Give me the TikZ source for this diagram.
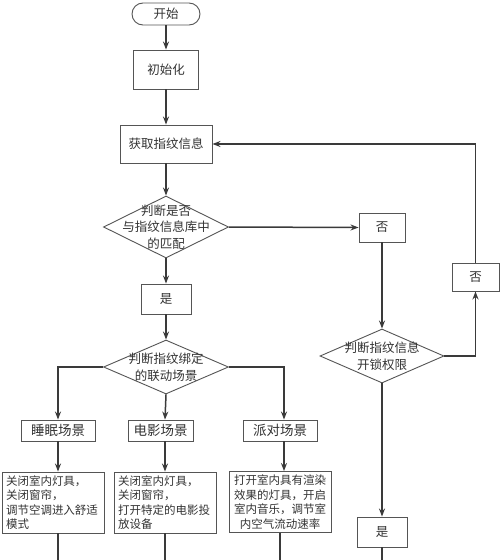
\documentclass[tikz,border=0pt]{standalone}
\usepackage{fontspec}
\setmainfont{Noto Sans CJK SC}
\usetikzlibrary{shapes.geometric,arrows.meta}
\definecolor{lc}{HTML}{3A3A3A}
\definecolor{bc}{HTML}{555555}
\definecolor{tc}{HTML}{333333}
\begin{document}
\begin{tikzpicture}[x=1pt,y=-1pt,
  line/.style={draw=lc, line width=1.5pt},
  arr/.style={line, -{Stealth[length=8pt,width=6pt]}},
  bx/.style={draw=bc, line width=0.9pt, inner sep=0pt, rectangle, text=tc, font=\fontsize{12.5}{15}\selectfont},
  dia/.style={draw=bc, line width=0.9pt, diamond, inner sep=0pt},
  lab/.style={inner sep=0pt, align=center, text=tc, font=\fontsize{12.5}{16.7}\selectfont},
  act/.style={bx, minimum width=102pt, minimum height=61pt, text width=94pt, font=\fontsize{11.5}{14.4}\selectfont}]
\useasboundingbox[fill=white] (0,0) rectangle (500,560);

\node[bx, rounded corners=11pt, minimum width=68pt, minimum height=22pt] (start) at (166,14) {开始};
\node[bx, minimum width=65pt, minimum height=39pt] (init) at (166,69.5) {初始化};
\node[bx, minimum width=92pt, minimum height=38pt] (get) at (166,144) {获取指纹信息};
\node[dia, minimum width=125pt, minimum height=62pt] (d1) at (166,227) {};
\node[lab] (t1) at (d1) {判断是否\\与指纹信息库中\\的匹配};
\node[bx, minimum width=46pt, minimum height=29pt] (no1) at (382,227.5) {否};
\node[bx, minimum width=50pt, minimum height=30pt] (yes1) at (166,299) {是};
\node[dia, minimum width=125pt, minimum height=54pt] (d2) at (166,367) {};
\node[lab] (t2) at (d2) {判断指纹绑定\\的联动场景};
\node[dia, minimum width=124pt, minimum height=54pt] (d3) at (382,356) {};
\node[lab] (t3) at (d3) {判断指纹信息\\开锁权限};
\node[bx, minimum width=47pt, minimum height=28pt] (no2) at (475.5,277) {否};
\node[bx, minimum width=50pt, minimum height=30pt] (yes2) at (382,532) {是};

\node[bx, minimum width=74pt, minimum height=21pt, font=\fontsize{13.5}{15}\selectfont] (s1) at (58,430.5) {睡眠场景};
\node[bx, minimum width=65pt, minimum height=21pt, font=\fontsize{13.5}{15}\selectfont] (s2) at (160.5,430.5) {电影场景};
\node[bx, minimum width=74pt, minimum height=21pt, font=\fontsize{13.5}{15}\selectfont] (s3) at (280,430.5) {派对场景};

\node[act, align=left] (a1) at (53,502.5) {关闭室内灯具，\\关闭窗帘，\\调节空调进入舒适\\模式};
\node[act, align=left] (a2) at (165,502.5) {关闭室内灯具，\\关闭窗帘，\\打开特定的电影投\\放设备};
\node[act, align=center] (a3) at (280,502) {打开室内具有渲染\\效果的灯具，开启\\室内音乐，调节室\\内空气流动速率};

\coordinate (c1) at (58,0);
\coordinate (c2) at (165,0);
\coordinate (c3) at (284,0);
\coordinate (e1) at (58,560);
\coordinate (e2) at (165,560);
\coordinate (e3) at (280,560);
\coordinate (e4) at (382,560);

\draw[arr] (start.south) -- (init.north);
\draw[arr] (init.south) -- (get.north);
\draw[arr] (get.south) -- (d1.north);
\draw[arr] (d1.south) -- (yes1.north);
\draw[arr] (yes1.south) -- (d2.north);
\draw[arr] (d1.east) -- (no1.west);
\draw[arr] (no1.south) -- (d3.north);
\draw[arr] (d3.east) -| (no2.south);
\draw[arr] (no2.north) |- (get.east);
\draw[arr] (d3.south) -- (yes2.north);
\draw[line] (yes2.south) -- (e4);

\draw[arr] (d2.west) -| (c1 |- s1.north);
\draw[arr] (d2.south) -- (c2 |- s2.north);
\draw[arr] (d2.east) -| (c3 |- s3.north);
\draw[arr] (c1 |- s1.south) -- (c1 |- a1.north);
\draw[arr] (c2 |- s2.south) -- (c2 |- a2.north);
\draw[arr] (c3 |- s3.south) -- (c3 |- a3.north);
\draw[line] (e1 |- a1.south) -- (e1);
\draw[line] (e2 |- a2.south) -- (e2);
\draw[line] (e3 |- a3.south) -- (e3);
\end{tikzpicture}
\end{document}
